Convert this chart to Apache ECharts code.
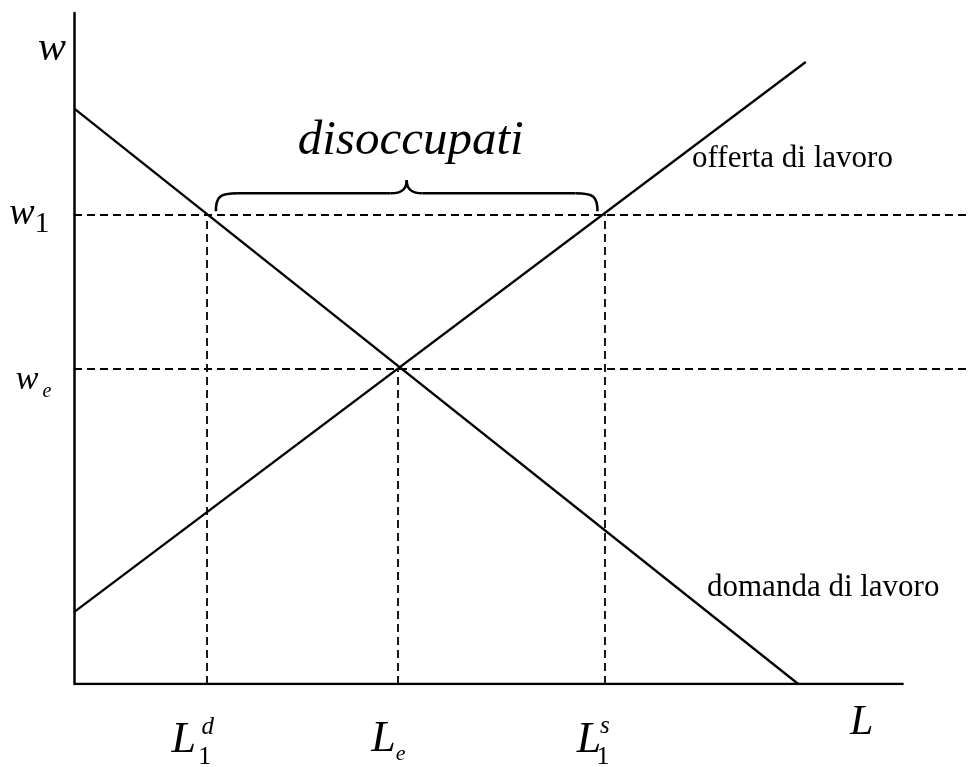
<!DOCTYPE html>
<html>
<head>
<meta charset="utf-8">
<title>Mercato del lavoro</title>
<script src="https://cdn.jsdelivr.net/npm/echarts@6/dist/echarts.min.js"></script>
<style>
html, body { margin: 0; padding: 0; background: #fff; }
#chart { width: 970px; height: 767px; }
</style>
</head>
<body>
<div id="chart"></div>
<script>
// valori (assi in unità arbitrarie)
var demandLine = [[0, 85.8], [87.3, 0]];
var supplyLine = [[0, 10.7], [88.2, 92.7]];
var wageValues = [70, 47];          // w1, we
var wageSubs = ['1', 'e'];
var labourValues = [16, 39, 64];    // L1d, Le, L1s
var labourWage = [0, 1, 0];         // salario a cui arriva ogni tratteggio
var labourSubs = ['1', 'e', '1'];
var labourSups = ['d', '', 's'];
var braceSpan = [17.1, 63.1];
var braceText = 'disoccupati';
var curveNames = ['offerta di lavoro', 'domanda di lavoro'];
var curveNameAt = [[74.5, 78.2], [76.3, 14.4]];
var axisNames = ['w', 'L'];
var xMax = 108, xAxisEnd = 100, yMax = 100;

var serif = '"Liberation Serif", "Times New Roman", serif';

function txt(x, y, text, size, italic, align) {
	return {
		type: 'text',
		x: x,
		y: y,
		style: {
			text: text,
			font: (italic ? 'italic ' : '') + size + 'px ' + serif,
			fill: '#000',
			align: align || 'center',
			verticalAlign: 'middle'
		}
	};
}

// tratteggi
var guides = [];
wageValues.forEach(function(w) {
	guides.push({ coords: [[0, w], [xMax, w]] });
});
labourValues.forEach(function(l, i) {
	guides.push({ coords: [[l, 0], [l, wageValues[labourWage[i]]]] });
});

// posizioni a mano delle etichette (pixel rispetto al punto sull'asse)
var wageLayout = [
	{ w: [-52, 0, 38], s: [-32, 10, 30, false] },
	{ w: [-47, 11, 34], s: [-27, 23, 20, true] }
];
var labourLayout = [
	{ L: [-23, 56], sup: [1, 43], sub: [-2, 73] },
	{ L: [-14, 55], sup: [0, 0], sub: [3, 70] },
	{ L: [-16, 56], sup: [0, 42], sub: [-2, 73] }
];

var chart = echarts.init(document.getElementById('chart'));

var option = {
	animation: false,
	backgroundColor: '#fff',
	grid: { left: 74, right: 0, top: 13, bottom: 83, containLabel: false, outerBoundsMode: 'none' },
	xAxis: {
		type: 'value', min: 0, max: xMax,
		axisLine: { show: false }, axisTick: { show: false },
		axisLabel: { show: false }, splitLine: { show: false }
	},
	yAxis: {
		type: 'value', min: 0, max: yMax,
		axisLine: { show: true, lineStyle: { color: '#000', width: 2.5 } },
		axisTick: { show: false }, axisLabel: { show: false }, splitLine: { show: false }
	},
	series: [
		{
			type: 'lines', coordinateSystem: 'cartesian2d', silent: true,
			lineStyle: { color: '#000', width: 1.8, type: [8, 5], opacity: 1 },
			data: guides
		},
		{
			type: 'line', data: [[0, 0], [xAxisEnd, 0]], symbol: 'none', silent: true,
			lineStyle: { color: '#000', width: 2.5 }
		},
		{
			type: 'line', data: demandLine, symbol: 'none', silent: true,
			lineStyle: { color: '#000', width: 2.3 }
		},
		{
			type: 'line', data: supplyLine, symbol: 'none', silent: true,
			lineStyle: { color: '#000', width: 2.3 }
		},
		{
			// graffa + scritta
			type: 'custom', clip: false, silent: true,
			data: [[braceSpan[0], wageValues[0]]],
			renderItem: function(params, api) {
				var pl = api.coord([braceSpan[0], wageValues[0]]);
				var pr = api.coord([braceSpan[1], wageValues[0]]);
				var xl = pl[0], xr = pr[0], xc = (xl + xr) / 2;
				var yb = pl[1] - 3, yh = pl[1] - 21, yc = pl[1] - 34;
				var st = { stroke: '#000', lineWidth: 2.6, fill: null };
				return {
					type: 'group',
					children: [
						{ type: 'bezierCurve', shape: { x1: xl, y1: yb, cpx1: xl, cpy1: yh + 3, cpx2: xl + 4, cpy2: yh, x2: xl + 22, y2: yh }, style: st },
						{ type: 'line', shape: { x1: xl + 22, y1: yh, x2: xc - 16, y2: yh }, style: st },
						{ type: 'bezierCurve', shape: { x1: xc - 16, y1: yh, cpx1: xc - 5, cpy1: yh, cpx2: xc, cpy2: yh - 4, x2: xc, y2: yc }, style: st },
						{ type: 'bezierCurve', shape: { x1: xc + 16, y1: yh, cpx1: xc + 5, cpy1: yh, cpx2: xc, cpy2: yh - 4, x2: xc, y2: yc }, style: st },
						{ type: 'line', shape: { x1: xr - 22, y1: yh, x2: xc + 16, y2: yh }, style: st },
						{ type: 'bezierCurve', shape: { x1: xr, y1: yb, cpx1: xr, cpy1: yh + 3, cpx2: xr - 4, cpy2: yh, x2: xr - 22, y2: yh }, style: st },
						txt(xc + 4, pl[1] - 73, braceText, 49, true)
					]
				};
			}
		},
		{
			// nomi delle curve
			type: 'custom', clip: false, silent: true,
			data: curveNameAt,
			renderItem: function(params, api) {
				var p = api.coord([api.value(0), api.value(1)]);
				return txt(p[0], p[1], curveNames[params.dataIndex], 31, false, 'left');
			}
		},
		{
			// etichette salari
			type: 'custom', clip: false, silent: true,
			data: wageValues.map(function(w) { return [0, w]; }),
			renderItem: function(params, api) {
				var i = params.dataIndex;
				var p = api.coord([0, api.value(1)]);
				var lay = wageLayout[i];
				return {
					type: 'group',
					children: [
						txt(p[0] + lay.w[0], p[1] + lay.w[1], 'w', lay.w[2], true),
						txt(p[0] + lay.s[0], p[1] + lay.s[1], wageSubs[i], lay.s[2], lay.s[3])
					]
				};
			}
		},
		{
			// etichette quantità
			type: 'custom', clip: false, silent: true,
			data: labourValues.map(function(l) { return [l, 0]; }),
			renderItem: function(params, api) {
				var i = params.dataIndex;
				var p = api.coord([api.value(0), 0]);
				var lay = labourLayout[i];
				var ch = [txt(p[0] + lay.L[0], p[1] + lay.L[1], 'L', 44, true)];
				if (labourSups[i]) ch.push(txt(p[0] + lay.sup[0], p[1] + lay.sup[1], labourSups[i], 25, true));
				ch.push(txt(p[0] + lay.sub[0], p[1] + lay.sub[1], labourSubs[i], labourSubs[i] === 'e' ? 22 : 26, labourSubs[i] === 'e'));
				return { type: 'group', children: ch };
			}
		},
		{
			// nomi degli assi
			type: 'custom', clip: false, silent: true,
			data: [[0, yMax], [xAxisEnd, 0]],
			renderItem: function(params, api) {
				var p = api.coord([api.value(0), api.value(1)]);
				if (params.dataIndex === 0) return txt(p[0] - 22, p[1] + 36, axisNames[0], 42, true);
				return txt(p[0] - 42, p[1] + 39, axisNames[1], 42, true);
			}
		}
	]
};

chart.setOption(option);
</script>
</body>
</html>
